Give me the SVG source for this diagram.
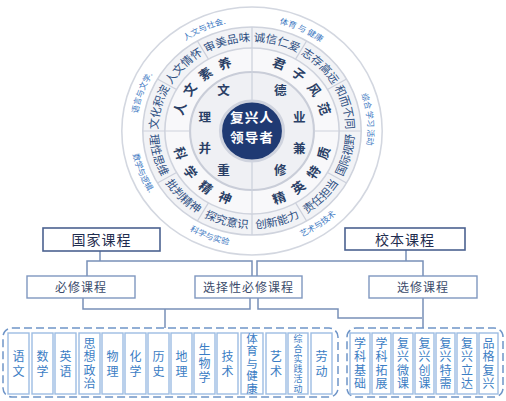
<svg xmlns="http://www.w3.org/2000/svg" width="506" height="401" viewBox="0 0 506 401">
<style>
text{font-family:"Noto Sans CJK SC","Noto Sans",sans-serif;}
.band{font-size:11px;fill:#2e4f82;}
.outer{font-size:8px;fill:#3c78c2;}
.ring{font-size:12.5px;font-weight:bold;fill:#2a3f66;text-anchor:middle;}
.inner{font-size:12px;font-weight:bold;fill:#2a3f66;text-anchor:middle;}
.core{font-size:13px;font-weight:bold;fill:#fff;text-anchor:middle;letter-spacing:1px;}
.div{stroke:#cdd1dc;stroke-width:1.2;fill:none;}
.main rect{fill:#fff;stroke:#4b6290;stroke-width:1.6;}
.main text{font-size:14px;fill:#1f2d4f;text-anchor:middle;letter-spacing:1px;}
.sub rect{fill:#fff;stroke:#7f97bf;stroke-width:1.4;}
.sub text{font-size:12px;fill:#3b4b6b;text-anchor:middle;letter-spacing:1px;}
.conn path{fill:none;stroke:#7890b8;stroke-width:1.5;}
.grp{fill:none;stroke:#6f95c8;stroke-width:1.5;stroke-dasharray:8 4;}
.c rect{fill:#fff;stroke:#9dbde3;stroke-width:1.4;}
.c text{font-size:12px;fill:#3b7dc4;text-anchor:middle;writing-mode:vertical-rl;}
.v2{letter-spacing:3px;}
.v3{letter-spacing:2px;}
.v4{letter-spacing:1.5px;}
.v5{letter-spacing:1px;font-size:11.5px !important;}
.v6{letter-spacing:1px;font-size:9px !important;}
</style>
<defs>
<path id="tb" d="M -37.87 -81.21 A 89.6 89.6 0 0 1 37.87 -81.21"/>
<path id="bb" d="M -41.16 88.27 A 97.4 97.4 0 0 0 41.16 88.27"/>
<path id="to" d="M -63.21 -90.27 A 110.2 110.2 0 0 1 63.21 -90.27"/>
<path id="bo" d="M -66.42 94.86 A 115.8 115.8 0 0 0 66.42 94.86"/>
</defs>

<g id="wheel" transform="translate(252,131) scale(1.05,1)">
  <circle r="124" fill="#fff" stroke="#d3d7e0" stroke-width="1.5"/>
  <circle r="104" fill="#f2f3f6" stroke="#cfd3dd" stroke-width="1.5"/>
  <circle r="83" fill="#f8f8fa" stroke="#cfd3dd" stroke-width="1.5"/>
  <circle r="59" fill="#eff0f4" stroke="#c9cdd8" stroke-width="2"/>
  <g class="div">
    <path d="M0 -104V-30M0 30V104M-104 0H-59M59 0H104"/>
    <path d="M90.07 52L71.88 41.5M52 90.07L41.5 71.88M-52 90.07L-41.5 71.88M-90.07 52L-71.88 41.5M-90.07 -52L-71.88 -41.5M-52 -90.07L-41.5 -71.88M52 -90.07L41.5 -71.88M90.07 -52L71.88 -41.5"/>
  </g>
  <circle r="30" fill="#1f3a73" stroke="#cfd3de" stroke-width="3"/>
  <g id="core">
    <text class="core" y="-9">复兴人</text>
    <text class="core" y="11">领导者</text>
  </g>
  <g id="inner-ring">
    <text class="inner" x="-27" y="-36">文</text>
    <text class="inner" x="27" y="-36">德</text>
    <text class="inner" x="-45" y="-9">理</text>
    <text class="inner" x="45" y="-9">业</text>
    <text class="inner" x="-45" y="22">并</text>
    <text class="inner" x="45" y="22">兼</text>
    <text class="inner" x="-27" y="44">重</text>
    <text class="inner" x="27" y="44">修</text>
  </g>
  <g id="mid-ring">
    <text class="ring" transform="rotate(-72)" y="-67.6">人</text>
    <text class="ring" transform="rotate(-55)" y="-67.6">文</text>
    <text class="ring" transform="rotate(-38)" y="-67.6">素</text>
    <text class="ring" transform="rotate(-21)" y="-67.6">养</text>
    <text class="ring" transform="rotate(21)" y="-67.6">君</text>
    <text class="ring" transform="rotate(38)" y="-67.6">子</text>
    <text class="ring" transform="rotate(55)" y="-67.6">风</text>
    <text class="ring" transform="rotate(72)" y="-67.6">范</text>
    <text class="ring" transform="rotate(72)" y="76.4">科</text>
    <text class="ring" transform="rotate(55)" y="76.4">学</text>
    <text class="ring" transform="rotate(38)" y="76.4">精</text>
    <text class="ring" transform="rotate(21)" y="76.4">神</text>
    <text class="ring" transform="rotate(-21)" y="76.4">精</text>
    <text class="ring" transform="rotate(-38)" y="76.4">英</text>
    <text class="ring" transform="rotate(-55)" y="76.4">特</text>
    <text class="ring" transform="rotate(-72)" y="76.4">质</text>
  </g>
  <g id="band-ring">
    <g transform="rotate(-75)"><text class="band"><textPath href="#tb" startOffset="50%" text-anchor="middle">文化积淀</textPath></text></g>
    <g transform="rotate(-45)"><text class="band"><textPath href="#tb" startOffset="50%" text-anchor="middle">人文情怀</textPath></text></g>
    <g transform="rotate(-15)"><text class="band"><textPath href="#tb" startOffset="50%" text-anchor="middle">审美品味</textPath></text></g>
    <g transform="rotate(15)"><text class="band"><textPath href="#tb" startOffset="50%" text-anchor="middle">诚信仁爱</textPath></text></g>
    <g transform="rotate(45)"><text class="band"><textPath href="#tb" startOffset="50%" text-anchor="middle">志存高远</textPath></text></g>
    <g transform="rotate(75)"><text class="band"><textPath href="#tb" startOffset="50%" text-anchor="middle">和而不同</textPath></text></g>
    <g transform="rotate(-75)"><text class="band"><textPath href="#bb" startOffset="50%" text-anchor="middle">国际视野</textPath></text></g>
    <g transform="rotate(-45)"><text class="band"><textPath href="#bb" startOffset="50%" text-anchor="middle">责任担当</textPath></text></g>
    <g transform="rotate(-15)"><text class="band"><textPath href="#bb" startOffset="50%" text-anchor="middle">创新能力</textPath></text></g>
    <g transform="rotate(15)"><text class="band"><textPath href="#bb" startOffset="50%" text-anchor="middle">探究意识</textPath></text></g>
    <g transform="rotate(45)"><text class="band"><textPath href="#bb" startOffset="50%" text-anchor="middle">批判精神</textPath></text></g>
    <g transform="rotate(75)"><text class="band"><textPath href="#bb" startOffset="50%" text-anchor="middle">理性思维</textPath></text></g>
  </g>
  <g id="outer-ring">
    <g transform="rotate(-24)"><text class="outer"><textPath href="#to" startOffset="50%" text-anchor="middle">人文与社会.</textPath></text></g>
    <g transform="rotate(25)"><text class="outer"><textPath href="#to" startOffset="50%" text-anchor="middle">体育 与 健康</textPath></text></g>
    <g transform="rotate(-70)"><text class="outer"><textPath href="#to" startOffset="50%" text-anchor="middle">语言与文学.</textPath></text></g>
    <g transform="rotate(84)"><text class="outer"><textPath href="#to" startOffset="50%" text-anchor="middle">综合  学习  活动</textPath></text></g>
    <g transform="rotate(68)"><text class="outer"><textPath href="#bo" startOffset="50%" text-anchor="middle">数学与逻辑.</textPath></text></g>
    <g transform="rotate(21)"><text class="outer"><textPath href="#bo" startOffset="50%" text-anchor="middle">科学与实验</textPath></text></g>
    <g transform="rotate(-34)"><text class="outer"><textPath href="#bo" startOffset="50%" text-anchor="middle">艺术与技术</textPath></text></g>
  </g>
</g>

<g id="connectors" class="conn">
  <path d="M100 251V261M87 276V261H252V276"/>
  <path d="M406 250V261M257 276V261H423V276"/>
  <path d="M83 298V309H250V298M165 309V328"/>
  <path d="M258 298V309H338V318H422M423 298V328"/>
</g>

<g id="guojia" class="main"><rect x="43" y="228" width="117" height="23"/><text x="101.5" y="245">国家课程</text></g>
<g id="xiaoben" class="main"><rect x="345" y="228" width="120" height="22"/><text x="405" y="244.5">校本课程</text></g>
<g id="bixiu" class="sub"><rect x="27" y="276" width="108" height="22"/><text x="81" y="291.5">必修课程</text></g>
<g id="xuanzexing" class="sub"><rect x="195" y="276" width="107" height="22"/><text x="248.5" y="291.5">选择性必修课程</text></g>
<g id="xuanxiu" class="sub"><rect x="369" y="276" width="108" height="22"/><text x="423" y="291.5">选修课程</text></g>

<g id="national-group">
  <rect class="grp" x="3" y="328" width="335" height="69" rx="9"/>
  <g id="yuwen" class="c"><rect x="8" y="333" width="21" height="61"/><text class="v2" x="18.5" y="365">语文</text></g>
  <g id="shuxue" class="c"><rect x="32" y="333" width="21" height="61"/><text class="v2" x="42.5" y="365">数学</text></g>
  <g id="yingyu" class="c"><rect x="55" y="333" width="21" height="61"/><text class="v2" x="65.5" y="365">英语</text></g>
  <g id="sixiang" class="c"><rect x="79" y="333" width="21" height="61"/><text class="v4" x="89.5" y="364.3">思想政治</text></g>
  <g id="wuli" class="c"><rect x="102" y="333" width="21" height="61"/><text class="v2" x="112.5" y="365">物理</text></g>
  <g id="huaxue" class="c"><rect x="125" y="333" width="21" height="61"/><text class="v2" x="135.5" y="365">化学</text></g>
  <g id="lishi" class="c"><rect x="148" y="333" width="21" height="61"/><text class="v2" x="158.5" y="365">历史</text></g>
  <g id="dili" class="c"><rect x="171" y="333" width="21" height="61"/><text class="v2" x="181.5" y="365">地理</text></g>
  <g id="shengwu" class="c"><rect x="194" y="333" width="21" height="61"/><text class="v3" x="204.5" y="364.5">生物学</text></g>
  <g id="jishu" class="c"><rect x="217" y="333" width="21" height="61"/><text class="v2" x="227.5" y="365">技术</text></g>
  <g id="tiyu" class="c"><rect x="241" y="333" width="22" height="61"/><text class="v5" x="252" y="364">体育与健康</text></g>
  <g id="yishu" class="c"><rect x="266" y="333" width="20" height="61"/><text class="v2" x="276" y="365">艺术</text></g>
  <g id="zonghe" class="c"><rect x="288" y="333" width="20" height="61"/><text class="v6" x="298" y="364">综合实践活动</text></g>
  <g id="laodong" class="c"><rect x="311" y="333" width="21" height="61"/><text class="v2" x="321.5" y="365">劳动</text></g>
</g>

<g id="school-group">
  <rect class="grp" x="347" y="328" width="156" height="69" rx="9"/>
  <g id="xkjc" class="c"><rect x="350" y="333" width="20" height="61"/><text class="v4" x="360" y="364.3">学科基础</text></g>
  <g id="xktz" class="c"><rect x="372" y="333" width="19" height="61"/><text class="v4" x="381.5" y="364.3">学科拓展</text></g>
  <g id="fxwk" class="c"><rect x="393" y="333" width="20" height="61"/><text class="v4" x="403" y="364.3">复兴微课</text></g>
  <g id="fxck" class="c"><rect x="415" y="333" width="19" height="61"/><text class="v4" x="424.5" y="364.3">复兴创课</text></g>
  <g id="fxtx" class="c"><rect x="436" y="333" width="19" height="61"/><text class="v4" x="445.5" y="364.3">复兴特需</text></g>
  <g id="fxld" class="c"><rect x="457" y="333" width="20" height="61"/><text class="v4" x="467" y="364.3">复兴立达</text></g>
  <g id="pgfx" class="c"><rect x="479" y="333" width="19" height="61"/><text class="v4" x="488.5" y="364.3">品格复兴</text></g>
</g>
</svg>
